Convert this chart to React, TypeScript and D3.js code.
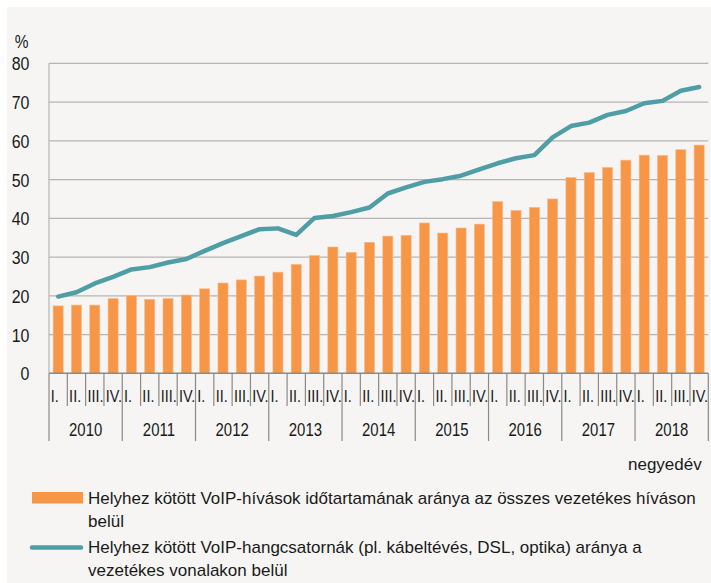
import React from "react";
import * as d3 from "d3";

const years = ["2010", "2011", "2012", "2013", "2014", "2015", "2016", "2017", "2018"];
const quarterLabels = ["I.", "II.", "III.", "IV."];
const callShare = [
  17.4, 17.6, 17.6, 19.3, 20.0, 19.1, 19.3, 20.2, 21.8, 23.3, 24.1, 25.1,
  26.1, 28.1, 30.4, 32.6, 31.2, 33.8, 35.4, 35.6, 38.8, 36.2, 37.5, 38.5,
  44.3, 42.0, 42.8, 45.0, 50.5, 51.8, 53.1, 55.0, 56.3, 56.2, 57.7, 58.9,
];
const lineShare = [
  19.8, 20.9, 23.2, 24.9, 26.8, 27.4, 28.6, 29.5, 31.6, 33.6, 35.4, 37.2,
  37.4, 35.7, 40.1, 40.6, 41.6, 42.8, 46.4, 48.0, 49.4, 50.1, 51.0, 52.6,
  54.2, 55.5, 56.3, 60.9, 63.8, 64.7, 66.7, 67.7, 69.7, 70.3, 72.9, 73.9,
];
const yTicks = [0, 10, 20, 30, 40, 50, 60, 70, 80];
const legend1 = ["Helyhez kötött VoIP-hívások időtartamának aránya az összes vezetékes híváson", "belül"];
const legend2 = ["Helyhez kötött VoIP-hangcsatornák (pl. kábeltévés, DSL, optika) aránya a", "vezetékes vonalakon belül"];

const W = 711;
const H = 583;
const FONT = "'Liberation Sans', Arial, sans-serif";
const ORANGE = "#f79646";
const TEAL = "#4f9ea5";

function T({ x, y, size = 18, anchor = "start", children, sx = 0.86 }: any) {
  return (
    <text
      transform={`translate(${x},${y}) scale(${sx},1)`}
      fontSize={size}
      fontFamily={FONT}
      textAnchor={anchor}
      fill="#1a1a1a"
    >
      {children}
    </text>
  );
}

function L({ x, y, children }: any) {
  return (
    <text x={x} y={y} fontSize={17} fontFamily={FONT} fill="#1a1a1a">
      {children}
    </text>
  );
}

export default function App() {
  const keys = years.flatMap((yr) => quarterLabels.map((q) => `${yr}-${q}`));
  const left = 49;
  const right = 708.3;
  const x = d3.scaleBand<string>().domain(keys).range([left, right]).paddingInner(0).paddingOuter(0);
  const y = d3.scaleLinear().domain([0, 80]).range([373.3, 63.3]);
  const bw = x.bandwidth();
  const barW = bw * 0.55;
  const line = d3
    .line<number>()
    .x((_, i) => (x(keys[i]) as number) + bw / 2)
    .y((d) => y(d));

  return (
    <div style={{ position: "absolute", left: 0, top: 0 }}>
      <svg width={W} height={H} style={{ display: "block" }}>
        <rect x={0} y={0} width={W} height={H} fill="#ffffff" />
        <rect x={7} y={7} width={W - 7} height={H - 7} fill="#f6f5f3" />
        {yTicks.map((t) => (
          <g key={t}>
            {t > 0 && (
              <line x1={left} x2={right} y1={y(t)} y2={y(t)} stroke="#b5b5b5" strokeWidth={1.2} />
            )}
            <T x={29.5} y={y(t) + 7} anchor="end" size={19} sx={0.84}>
              {t}
            </T>
          </g>
        ))}
        <T x={28.5} y={48} anchor="end" size={18} sx={0.86}>%</T>
        <line x1={left} x2={left} y1={y(80)} y2={y(0)} stroke="#b5b5b5" strokeWidth={1.2} />
        {callShare.map((v, i) => (
          <rect
            key={i}
            x={(x(keys[i]) as number) + (bw - barW) / 2}
            y={y(v)}
            width={barW}
            height={y(0) - y(v)}
            fill={ORANGE}
            stroke="#fbb887"
            strokeWidth={0.6}
          />
        ))}
        <path d={line(lineShare) || ""} fill="none" stroke={TEAL} strokeWidth={4.5} strokeLinejoin="round" strokeLinecap="round" />
        <line x1={left} x2={right} y1={y(0)} y2={y(0)} stroke="#8a8a8a" strokeWidth={1.4} />
        {d3.range(keys.length + 1).map((k) => {
          const xx = k < keys.length ? (x(keys[k]) as number) : right;
          return (
            <line
              key={k}
              x1={xx}
              x2={xx}
              y1={y(0)}
              y2={k % 4 === 0 ? 441 : 406}
              stroke="#8a8a8a"
              strokeWidth={1.2}
            />
          );
        })}
        {keys.map((k, i) => (
          <T key={k} x={(x(k) as number) + 1.8} y={402} size={17} sx={0.85}>
            {quarterLabels[i % 4]}
          </T>
        ))}
        {years.map((yr) => {
          const x0 = x(`${yr}-I.`) as number;
          return (
            <T key={yr} x={x0 + bw * 2} y={436} anchor="middle" size={18} sx={0.83}>
              {yr}
            </T>
          );
        })}
        <L x={628} y={470}>negyedév</L>
        <rect x={32} y={492} width={51} height={11.5} fill={ORANGE} />
        <L x={88} y={504}>{legend1[0]}</L>
        <L x={88} y={527}>{legend1[1]}</L>
        <line x1={32} x2={81} y1={547.5} y2={547.5} stroke={TEAL} strokeWidth={4.5} strokeLinecap="round" />
        <L x={88} y={553}>{legend2[0]}</L>
        <L x={88} y={576}>{legend2[1]}</L>
      </svg>
    </div>
  );
}
